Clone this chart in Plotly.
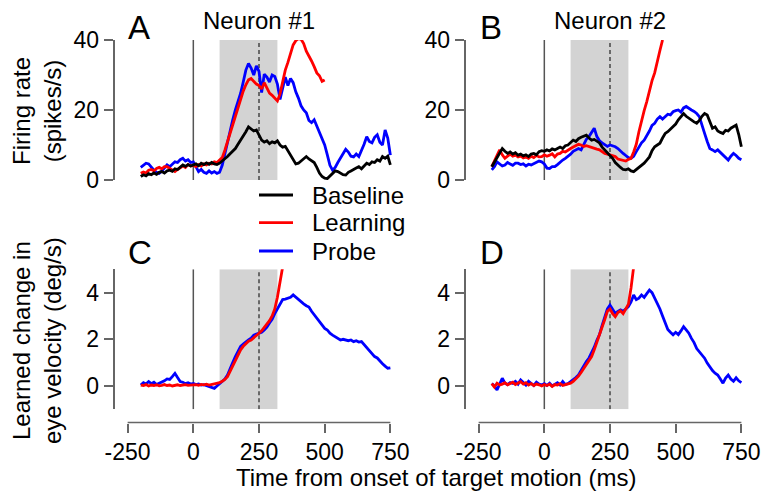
import plotly.graph_objects as go

# ---------------- data ----------------
t = list(range(-200, 751, 10))          # time grid (ms)
t_learn_a = list(range(-200, 501, 10))   # learning trace, neuron #1
t_learn_b = list(range(-200, 451, 10))   # learning trace, neuron #2
t_learn_eye = list(range(-200, 341, 10)) # learning eye traces

a_base = [1.0, 1.5, 1.2, 1.8, 1.5, 2.0, 1.6, 2.2, 2.4, 2.0, 2.6, 2.8, 2.5, 3.2, 3.0, 3.6, 4.3, 3.9, 4.4, 4.0,
          4.2, 4.6, 4.1, 4.8, 4.4, 4.9, 4.5, 5.0, 4.6, 4.4, 4.8, 5.4, 6.2, 6.7, 7.5, 8.3, 9.0, 10.2, 11.4, 12.2,
          13.8, 15.2, 14.6, 14.0, 14.3, 12.6, 11.4, 10.8, 11.2, 10.4, 10.9, 10.6, 11.2, 10.0, 9.4, 9.6, 8.4, 7.2, 6.0, 4.6,
          4.8, 5.4, 6.2, 6.7, 6.0, 5.6, 5.0, 3.6, 2.0, 1.0, 0.5, 0.4, 1.2, 1.9, 2.6, 2.4, 2.0, 1.5, 1.4, 2.2,
          2.6, 2.9, 3.4, 3.8, 3.2, 4.0, 4.8, 4.4, 5.2, 5.0, 5.8, 5.4, 6.7, 6.2, 6.8, 4.3]
a_learn = [1.9, 2.3, 2.0, 2.8, 3.0, 2.6, 3.3, 3.6, 3.2, 3.8, 3.8, 3.4, 2.9, 2.4, 3.0, 3.6, 4.0, 3.6, 4.4, 4.0,
           4.2, 3.8, 4.4, 4.0, 4.6, 4.3, 4.8, 4.6, 5.2, 5.0, 5.6, 6.4, 8.5, 11.0, 13.2, 15.4, 17.8, 20.6, 22.8, 25.4,
           27.2, 28.6, 29.0, 28.2, 27.4, 27.0, 26.0, 27.8, 26.4, 24.8, 24.2, 23.4, 22.6, 24.6, 28.4, 31.4, 33.6, 35.8, 38.6, 39.8,
           40.4, 40.2, 39.0, 36.8, 35.6, 34.0, 32.4, 30.6, 29.8, 28.2, 28.6]
a_probe = [3.6, 4.2, 4.8, 4.6, 3.6, 2.8, 2.2, 1.9, 2.6, 3.4, 4.3, 3.8, 4.6, 5.2, 5.0, 5.8, 6.2, 5.4, 5.8, 5.0,
           5.2, 3.8, 2.4, 3.0, 2.2, 1.9, 2.6, 2.0, 2.4, 1.9, 2.2, 4.2, 7.6, 10.8, 14.3, 17.2, 20.0, 22.4, 24.8, 28.0,
           31.4, 33.3, 32.0, 30.0, 32.6, 31.0, 25.0, 30.2, 29.4, 28.0, 30.0, 29.6, 27.4, 23.0, 26.0, 29.4, 27.0, 29.0, 27.8, 25.2,
           23.4, 21.2, 20.0, 19.2, 17.0, 16.4, 17.2, 15.4, 13.4, 11.8, 10.0, 7.2, 4.2, 2.8, 3.6, 5.0, 6.2, 7.4, 8.8, 8.0,
           6.8, 6.6, 7.4, 6.7, 8.4, 10.2, 12.4, 11.0, 10.6, 12.2, 12.9, 10.8, 10.0, 14.3, 12.0, 7.1]

b_base = [3.8, 5.2, 6.4, 7.6, 9.0, 8.2, 7.6, 8.0, 7.4, 7.8, 7.1, 7.4, 6.9, 7.2, 6.7, 7.4, 7.6, 7.2, 8.1, 8.4,
          8.2, 8.6, 8.3, 8.9, 8.6, 9.0, 9.4, 9.0, 9.8, 10.0, 10.6, 11.4, 11.0, 11.8, 12.2, 12.4, 12.8, 12.0, 11.4, 11.6,
          11.0, 10.6, 9.4, 8.6, 7.8, 7.0, 6.2, 5.0, 4.2, 3.6, 3.0, 2.9, 3.2, 2.6, 2.4, 3.0, 3.6, 4.2, 4.8, 5.7,
          6.6, 8.4, 9.5, 10.0, 10.5, 12.0, 13.3, 13.8, 14.6, 15.2, 16.0, 17.2, 18.2, 19.0, 18.2, 17.6, 17.1, 16.6, 16.2, 17.0,
          18.2, 19.0, 18.6, 16.4, 14.8, 15.2, 14.0, 13.6, 13.3, 14.2, 14.0, 14.8, 15.2, 15.7, 13.0, 9.5]
b_learn = [3.8, 5.4, 7.0, 8.6, 7.2, 6.2, 6.8, 7.4, 6.8, 7.1, 6.6, 6.9, 6.3, 6.6, 6.2, 6.8, 6.4, 7.0, 6.6, 6.7,
           7.2, 6.8, 7.1, 7.5, 6.6, 7.4, 7.6, 8.2, 8.0, 8.6, 9.0, 9.4, 9.8, 10.2, 10.0, 9.6, 9.8, 9.5, 9.2, 9.0,
           8.8, 8.6, 8.0, 7.6, 7.4, 7.1, 6.8, 6.7, 6.0, 5.8, 5.7, 5.4, 5.9, 6.2, 8.0, 10.2, 13.8, 17.0, 19.8, 22.4,
           25.6, 28.4, 30.6, 34.3, 37.0, 40.0]
b_probe = [2.9, 3.8, 5.2, 4.6, 4.0, 4.3, 5.0, 4.6, 4.2, 4.8, 4.8, 4.4, 4.6, 4.0, 4.5, 4.3, 4.7, 5.0, 5.4, 5.2,
           4.6, 3.4, 3.3, 3.8, 3.8, 4.4, 5.2, 5.7, 6.2, 6.7, 7.4, 8.2, 8.6, 9.0, 8.6, 10.2, 11.6, 12.4, 13.6, 14.8,
           12.4, 11.2, 10.6, 10.0, 9.6, 10.0, 9.8, 9.5, 9.0, 8.2, 7.6, 7.0, 6.4, 6.2, 6.8, 8.1, 9.4, 10.6, 11.4, 12.6,
           14.0, 15.6, 16.2, 17.4, 18.1, 17.4, 18.1, 18.8, 18.6, 19.5, 19.8, 20.0, 19.4, 20.6, 21.0, 20.4, 20.0, 19.6, 19.0, 18.1,
           16.0, 13.3, 11.0, 9.0, 8.6, 8.1, 8.6, 7.8, 7.1, 6.4, 5.7, 6.8, 7.6, 7.0, 6.2, 5.8]

c_learn = [0.04, 0.02, 0.06, 0.00, 0.04, 0.02, 0.05, 0.01, 0.03, 0.06, 0.02, 0.04, 0.00, 0.03, 0.05, 0.02, 0.04, 0.06, 0.03, 0.05,
           0.04, 0.06, 0.03, 0.07, 0.05, 0.08, 0.04, 0.06, 0.08, 0.10, 0.14, 0.20, 0.28, 0.40, 0.62, 0.88, 1.11, 1.35, 1.55, 1.70,
           1.82, 1.92, 1.97, 2.08, 2.18, 2.26, 2.36, 2.50, 2.66, 2.80, 3.00, 3.30, 3.80, 4.40, 5.10]
c_probe = [0.04, 0.14, 0.08, 0.19, 0.10, 0.16, 0.06, 0.11, 0.18, 0.22, 0.30, 0.28, 0.40, 0.54, 0.36, 0.19, 0.16, 0.10, 0.14, 0.08,
           0.11, 0.06, 0.09, 0.04, 0.06, 0.02, 0.00, -0.04, -0.10, 0.00, 0.10, 0.19, 0.30, 0.47, 0.70, 1.00, 1.26, 1.50, 1.70, 1.80,
           1.90, 1.97, 2.05, 2.18, 2.22, 2.26, 2.30, 2.40, 2.52, 2.70, 2.86, 3.10, 3.30, 3.55, 3.70, 3.72, 3.76, 3.80, 3.90, 3.80,
           3.69, 3.62, 3.52, 3.44, 3.38, 3.20, 3.05, 2.90, 2.74, 2.60, 2.47, 2.40, 2.26, 2.18, 2.10, 2.04, 1.97, 2.00, 1.96, 1.94,
           1.97, 1.90, 1.94, 1.88, 1.90, 1.78, 1.62, 1.50, 1.40, 1.26, 1.20, 1.05, 0.95, 0.85, 0.76, 0.78]

d_learn = [0.10, -0.05, 0.12, 0.04, 0.08, 0.14, 0.05, 0.10, 0.16, 0.06, 0.12, 0.18, 0.08, 0.14, 0.04, 0.10, 0.02, 0.08, 0.05, 0.00,
           0.06, 0.02, 0.08, -0.02, 0.06, 0.04, 0.10, 0.02, 0.06, 0.08, 0.12, 0.20, 0.30, 0.42, 0.58, 0.76, 0.90, 1.08, 1.26, 1.55,
           1.86, 2.20, 2.55, 2.85, 3.20, 3.30, 3.10, 2.97, 3.15, 3.22, 3.10, 3.30, 3.50, 4.20, 5.10]
d_probe = [0.11, 0.00, -0.17, 0.05, 0.33, 0.12, 0.06, 0.15, 0.11, 0.20, 0.08, 0.26, 0.14, 0.04, 0.20, 0.11, 0.02, 0.16, 0.08, 0.04,
           0.10, 0.02, 0.12, 0.00, 0.08, 0.14, 0.04, 0.19, 0.06, 0.10, 0.19, 0.26, 0.36, 0.47, 0.66, 0.90, 1.05, 1.20, 1.40, 1.66,
           1.96, 2.20, 2.60, 2.97, 3.30, 3.47, 3.30, 3.11, 3.20, 3.26, 3.20, 3.30, 3.40, 3.60, 3.90, 3.70, 3.76, 3.90, 3.80, 3.96,
           4.11, 4.00, 3.76, 3.56, 3.30, 3.00, 2.70, 2.42, 2.30, 2.19, 2.30, 2.20, 2.36, 2.54, 2.40, 2.26, 2.04, 1.86, 1.60, 1.46,
           1.30, 1.19, 0.98, 0.80, 0.66, 0.55, 0.47, 0.30, 0.12, 0.34, 0.47, 0.30, 0.20, 0.35, 0.22, 0.14]

series_names = ["Baseline", "Learning", "Probe"]
series_colors = ["#000000", "#ff0000", "#0000ff"]
x_ticks = [-250, 0, 250, 500, 750]
x_tick_text = ["-250", "0", "250", "500", "750"]
rate_ticks = [0, 20, 40]
eye_ticks = [0, 2, 4]
window = [100, 320]      # shaded analysis window (ms)
mark_t = 250             # dashed marker (ms)
onset_t = 0              # target motion onset (ms)
panel_letters = ["A", "B", "C", "D"]
titles = ["Neuron #1", "Neuron #2"]

# ---------------- layout helpers ----------------
W, H = 764, 497
FONT = "Liberation Sans, Arial, Helvetica, sans-serif"
AX = "#666666"
TXT = 24
TICK = 23
def fx(p): return p / W
def fy(p): return 1 - p / H

xdom_l = [fx(114.5), fx(393.0)]
xdom_r = [fx(465.5), fx(744.0)]
ydom_t = [fy(180), fy(40)]
ydom_b = [fy(409.3), fy(269.3)]
xr = [-300, 760]
yr_rate = [0, 40]
yr_eye = [-1, 5]
LW = 2.8

fig = go.Figure()

def add(xs, ys, color, xa, ya):
    fig.add_trace(go.Scatter(x=xs, y=ys, mode="lines", line=dict(color=color, width=LW),
                             xaxis=xa, yaxis=ya, showlegend=False, hoverinfo="skip"))

# panel A
add(t, a_probe, series_colors[2], "x", "y")
add(t_learn_a, a_learn, series_colors[1], "x", "y")
add(t, a_base, series_colors[0], "x", "y")
# panel B
add(t, b_probe, series_colors[2], "x2", "y2")
add(t_learn_b, b_learn, series_colors[1], "x2", "y2")
add(t, b_base, series_colors[0], "x2", "y2")
# panel C
add(t, c_probe, series_colors[2], "x3", "y3")
add(t_learn_eye, c_learn, series_colors[1], "x3", "y3")
# panel D
add(t, d_probe, series_colors[2], "x4", "y4")
add(t_learn_eye, d_learn, series_colors[1], "x4", "y4")

tickfont = dict(family=FONT, size=TICK, color="#000000")
def yax(dom, rng, ticks, anchor):
    return dict(domain=dom, range=rng, tickvals=ticks, ticks="outside", ticklen=9, tickwidth=1.5,
                tickcolor=AX, showline=True, linecolor=AX, linewidth=1.5, showgrid=False,
                zeroline=False, tickfont=tickfont, anchor=anchor, fixedrange=True, automargin=False)
def xax_hidden(dom, anchor):
    return dict(domain=dom, range=xr, visible=False, anchor=anchor, showgrid=False, zeroline=False,
                automargin=False)
xpos = fy(422.5)
def xax_shown(dom):
    return dict(domain=dom, range=xr, anchor="free", position=xpos, tickvals=x_ticks, ticktext=x_tick_text,
                ticks="outside", ticklen=9, tickwidth=1.5, tickcolor=AX, showline=False, showgrid=False,
                zeroline=False, tickfont=tickfont, automargin=False)

fig.update_layout(
    width=W, height=H, margin=dict(l=0, r=0, t=0, b=0, pad=0, autoexpand=False),
    paper_bgcolor="white", plot_bgcolor="rgba(0,0,0,0)",
    font=dict(family=FONT, size=TXT, color="#000000"),
    showlegend=False,
    xaxis=xax_hidden(xdom_l, "y"), yaxis=yax(ydom_t, yr_rate, rate_ticks, "x"),
    xaxis2=xax_hidden(xdom_r, "y2"), yaxis2=yax(ydom_t, yr_rate, rate_ticks, "x2"),
    xaxis3=xax_shown(xdom_l), yaxis3=yax(ydom_b, yr_eye, eye_ticks, "x3"),
    xaxis4=xax_shown(xdom_r), yaxis4=yax(ydom_b, yr_eye, eye_ticks, "x4"),
)

shapes = []
for xa, ya, rng in [("x", "y", yr_rate), ("x2", "y2", yr_rate), ("x3", "y3", yr_eye), ("x4", "y4", yr_eye)]:
    shapes.append(dict(type="rect", xref=xa, yref=ya, x0=window[0], x1=window[1], y0=rng[0], y1=rng[1],
                       fillcolor="#d3d3d3", line=dict(width=0), layer="below"))
    shapes.append(dict(type="line", xref=xa, yref=ya, x0=onset_t, x1=onset_t, y0=rng[0], y1=rng[1],
                       line=dict(color="#555555", width=1.5), layer="below"))
    shapes.append(dict(type="line", xref=xa, yref=ya, x0=mark_t, x1=mark_t, y0=rng[0], y1=rng[1],
                       line=dict(color="#444444", width=1.5, dash="4px,3px"), layer="below"))
for xa in ["x3", "x4"]:
    shapes.append(dict(type="line", xref=xa, yref="paper", x0=x_ticks[0], x1=x_ticks[-1], y0=xpos, y1=xpos,
                       line=dict(color=AX, width=1.5)))
# legend lines
leg_y = [195, 222.7, 251]
for i, yy in enumerate(leg_y):
    shapes.append(dict(type="line", xref="paper", yref="paper", x0=fx(259), x1=fx(293), y0=fy(yy), y1=fy(yy),
                       line=dict(color=series_colors[i], width=LW)))
fig.update_layout(shapes=shapes)

ann = []
for i, yy in enumerate(leg_y):
    ann.append(dict(x=fx(310), y=fy(yy), xref="paper", yref="paper", text=series_names[i], showarrow=False,
                    xanchor="left", yanchor="middle", font=dict(size=TXT)))
for txt, xpx, ypx in zip(panel_letters, [126, 478, 126, 478], [27, 27, 252, 252]):
    ann.append(dict(x=fx(xpx), y=fy(ypx), xref="paper", yref="paper", text=txt, showarrow=False,
                    xanchor="left", yanchor="middle", font=dict(size=33)))
ann.append(dict(x=mark_t, y=fy(21), xref="x", yref="paper", text=titles[0], showarrow=False,
                xanchor="center", yanchor="middle", font=dict(size=TXT)))
ann.append(dict(x=mark_t, y=fy(21), xref="x2", yref="paper", text=titles[1], showarrow=False,
                xanchor="center", yanchor="middle", font=dict(size=TXT)))
ann.append(dict(x=fx(37), y=fy(111), xref="paper", yref="paper", text="Firing rate<br>(spikes/s)",
                showarrow=False, textangle=-90, xanchor="center", yanchor="middle", font=dict(size=TXT)))
ann.append(dict(x=fx(37), y=fy(341), xref="paper", yref="paper", text="Learned change in<br>eye velocity (deg/s)",
                showarrow=False, textangle=-90, xanchor="center", yanchor="middle", font=dict(size=TXT)))
ann.append(dict(x=fx(436), y=fy(477), xref="paper", yref="paper", text="Time from onset of target motion (ms)",
                showarrow=False, xanchor="center", yanchor="middle", font=dict(size=TXT)))
fig.update_layout(annotations=ann)

fig.write_html("out.html", include_plotlyjs=True, config={"displayModeBar": False})
